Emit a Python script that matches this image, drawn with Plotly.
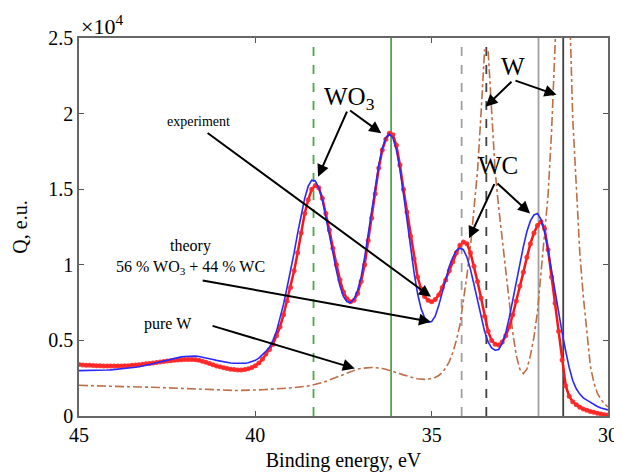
import plotly.graph_objects as go

# Binding energy grid (eV), 45.0 -> 30.0 in 0.1 eV steps
energy = [round(45.0 - 0.1 * i, 1) for i in range(151)]

# Experiment (x1e4 e.u.)
experiment = [
    0.340, 0.338, 0.336, 0.335, 0.334, 0.333, 0.332, 0.331, 0.330, 0.330,
    0.330, 0.330, 0.331, 0.332, 0.333, 0.335, 0.337, 0.339, 0.342, 0.345,
    0.348, 0.351, 0.354, 0.357, 0.360, 0.363, 0.366, 0.368, 0.370, 0.372,
    0.373, 0.374, 0.374, 0.372, 0.368, 0.362, 0.355, 0.347, 0.339, 0.331,
    0.325, 0.319, 0.314, 0.310, 0.307, 0.305, 0.305, 0.307, 0.312, 0.320,
    0.332, 0.350, 0.375, 0.410, 0.440, 0.475, 0.530, 0.590, 0.670, 0.760,
    0.850, 0.960, 1.080, 1.210, 1.340, 1.430, 1.500, 1.525, 1.510, 1.440,
    1.340, 1.230, 1.110, 1.000, 0.900, 0.820, 0.775, 0.755, 0.765, 0.810,
    0.890, 1.000, 1.160, 1.310, 1.470, 1.640, 1.760, 1.830, 1.870, 1.860,
    1.790, 1.660, 1.500, 1.350, 1.190, 1.040, 0.920, 0.840, 0.790, 0.765,
    0.755, 0.770, 0.800, 0.850, 0.900, 0.960, 1.020, 1.080, 1.130, 1.150,
    1.140, 1.080, 0.990, 0.890, 0.780, 0.660, 0.560, 0.500, 0.475, 0.470,
    0.490, 0.530, 0.590, 0.670, 0.760, 0.860, 0.950, 1.050, 1.140, 1.210,
    1.260, 1.285, 1.240, 1.100, 0.920, 0.745, 0.560, 0.370, 0.200, 0.130,
    0.095, 0.075, 0.058, 0.047, 0.038, 0.030, 0.024, 0.018, 0.013, 0.009,
    0.006,
]

# Theory: 56 % WO3 + 44 % WC
theory = [
    0.300, 0.300, 0.300, 0.300, 0.300, 0.301, 0.302, 0.303, 0.304, 0.305,
    0.307, 0.309, 0.311, 0.313, 0.316, 0.319, 0.322, 0.326, 0.330, 0.335,
    0.340, 0.346, 0.352, 0.358, 0.364, 0.370, 0.376, 0.382, 0.387, 0.391,
    0.394, 0.396, 0.397, 0.396, 0.394, 0.390, 0.385, 0.380, 0.374, 0.368,
    0.363, 0.358, 0.354, 0.351, 0.349, 0.348, 0.348, 0.349, 0.352, 0.358,
    0.368, 0.383, 0.403, 0.428, 0.455, 0.500, 0.560, 0.650, 0.740, 0.850,
    0.960, 1.080, 1.210, 1.330, 1.440, 1.520, 1.560, 1.555, 1.510, 1.430,
    1.320, 1.200, 1.080, 0.960, 0.860, 0.790, 0.755, 0.750, 0.775, 0.830,
    0.920, 1.050, 1.200, 1.360, 1.520, 1.660, 1.770, 1.840, 1.865, 1.840,
    1.760, 1.630, 1.470, 1.290, 1.110, 0.950, 0.810, 0.710, 0.650, 0.620,
    0.625, 0.660, 0.730, 0.820, 0.910, 0.990, 1.050, 1.095, 1.110, 1.100,
    1.050, 0.970, 0.870, 0.760, 0.650, 0.560, 0.490, 0.450, 0.435, 0.440,
    0.480, 0.550, 0.650, 0.770, 0.890, 1.010, 1.120, 1.220, 1.290, 1.330,
    1.340, 1.300, 1.220, 1.100, 0.960, 0.810, 0.680, 0.550, 0.430, 0.320,
    0.235, 0.180, 0.145, 0.120, 0.105, 0.090, 0.075, 0.063, 0.053, 0.045,
    0.040,
]

# Pure W
pure_w = [
    0.203, 0.203, 0.202, 0.202, 0.201, 0.200, 0.199, 0.198, 0.197, 0.196,
    0.196, 0.195, 0.195, 0.194, 0.194, 0.193, 0.193, 0.192, 0.192, 0.191,
    0.191, 0.190, 0.190, 0.189, 0.188, 0.186, 0.184, 0.182, 0.180, 0.179,
    0.178, 0.177, 0.176, 0.175, 0.174, 0.173, 0.172, 0.172, 0.171, 0.171,
    0.170, 0.170, 0.170, 0.169, 0.169, 0.169, 0.169, 0.170, 0.170, 0.171,
    0.172, 0.173, 0.174, 0.175, 0.176, 0.177, 0.178, 0.180, 0.182, 0.184,
    0.186, 0.188, 0.190, 0.193, 0.196, 0.199, 0.203, 0.208, 0.214, 0.221,
    0.229, 0.238, 0.248, 0.258, 0.268, 0.278, 0.288, 0.297, 0.304, 0.310,
    0.315, 0.318, 0.320, 0.321, 0.320, 0.318, 0.314, 0.309, 0.303, 0.296,
    0.288, 0.280, 0.272, 0.264, 0.257, 0.251, 0.246, 0.243, 0.242, 0.243,
    0.247, 0.255, 0.268, 0.288, 0.318, 0.360, 0.420, 0.500, 0.600, 0.750,
    0.930, 1.120, 1.350, 1.620, 2.000, 2.420, 2.420, 2.000, 1.620, 1.380,
    1.180, 0.980, 0.760, 0.550, 0.400, 0.310, 0.280, 0.310, 0.400, 0.520,
    0.690, 0.950, 1.180, 1.460, 1.880, 2.600, 3.300, 3.600, 3.400, 2.800,
    1.970, 1.500, 1.080, 0.790, 0.560, 0.330, 0.220, 0.150, 0.110, 0.080,
    0.060,
]

# Reference lines (eV)
vline_x = [38.35, 36.15, 34.15, 33.45, 31.97, 31.27]
vline_color = ["#4aa84a", "#4aa84a", "#a0a0a0", "#404040", "#a0a0a0", "#404040"]
vline_dash = ["dash", "solid", "dash", "dash", "solid", "solid"]

x_ticks = [45, 40, 35, 30]
y_ticks = [0, 0.5, 1, 1.5, 2, 2.5]
y_tick_text = ["0", "0.5", "1", "1.5", "2", "2.5"]

SERIF = "Liberation Serif, Times New Roman, serif"

fig = go.Figure()

fig.add_trace(go.Scatter(
    x=energy, y=pure_w, mode="lines",
    line=dict(color="rgb(190,110,70)", width=1.6, dash="dashdot"),
    showlegend=False, hoverinfo="skip"))

fig.add_trace(go.Scatter(
    x=energy, y=experiment, mode="lines+markers",
    line=dict(color="rgb(255,20,20)", width=2.5),
    marker=dict(color="rgb(255,40,40)", size=5, opacity=0.9),
    showlegend=False, hoverinfo="skip"))

fig.add_trace(go.Scatter(
    x=energy, y=theory, mode="lines",
    line=dict(color="rgb(40,40,255)", width=1.6),
    showlegend=False, hoverinfo="skip"))

shapes = []
for xv, col, ds in zip(vline_x, vline_color, vline_dash):
    shapes.append(dict(type="line", xref="x", yref="paper", x0=xv, x1=xv,
                       y0=0, y1=1, line=dict(color=col, width=1.8, dash=ds),
                       layer="below"))

annotations = []

def arrow(head, tail):
    annotations.append(dict(
        x=head[0], y=head[1], ax=tail[0], ay=tail[1],
        xref="x", yref="y", axref="x", ayref="y",
        text=" ", showarrow=True, arrowhead=2, arrowsize=1.2,
        arrowwidth=2, arrowcolor="black", standoff=0, startstandoff=0,
        font=dict(size=2)))

def label(x, y, text, size):
    annotations.append(dict(
        x=x, y=y, xref="x", yref="y", text=text, showarrow=False,
        font=dict(family=SERIF, size=size, color="black"),
        xanchor="center", yanchor="middle"))

label(37.32, 2.10, "WO<sub>3</sub>", 25)
arrow((38.22, 1.583), (37.37, 2.03))
arrow((36.43, 1.87), (37.37, 2.03))

label(32.68, 2.31, "W", 25)
arrow((33.47, 2.046), (32.68, 2.223))
arrow((31.46, 2.124), (32.68, 2.223))

label(33.13, 1.66, "WC", 25)
arrow((33.94, 1.175), (33.19, 1.55))
arrow((32.21, 1.34), (33.19, 1.55))

label(41.61, 1.945, "experiment", 14)
arrow((35.02, 0.788), (41.41, 1.881))

label(41.83, 1.124, "theory", 16)
label(41.83, 0.985, "56 % WO<sub>3</sub> + 44 % WC", 16)
arrow((35.02, 0.623), (41.55, 0.899))

label(42.48, 0.607, "pure W", 16)
arrow((37.18, 0.314), (41.27, 0.60))

annotations.append(dict(
    x=0, y=1.035, xref="paper", yref="paper", xanchor="left",
    yanchor="middle", showarrow=False, text="×10<sup>4</sup>",
    font=dict(family=SERIF, size=22, color="black")))

# The page body adds an 8 px margin, so the figure is sized to fit inside it.
fig.update_layout(
    width=614, height=464,
    margin=dict(l=71, r=14, t=30, b=56),
    paper_bgcolor="white", plot_bgcolor="white",
    font=dict(family=SERIF, size=19, color="black"),
    shapes=shapes, annotations=annotations, showlegend=False,
    xaxis=dict(
        range=[45, 30], tickvals=x_ticks, ticktext=[str(v) for v in x_ticks],
        ticks="inside", ticklen=5, tickcolor="#555", showline=True,
        linecolor="#666", linewidth=1.5, mirror="ticks", showgrid=False,
        zeroline=False, tickfont=dict(family=SERIF, size=20), automargin=False,
        title=dict(text="Binding energy, eV", font=dict(family=SERIF, size=20))),
    yaxis=dict(
        range=[0, 2.5], tickvals=y_ticks, ticktext=y_tick_text,
        ticks="inside", ticklen=5, tickcolor="#555", showline=True,
        linecolor="#666", linewidth=1.5, mirror="ticks", showgrid=False,
        zeroline=False, tickfont=dict(family=SERIF, size=20), automargin=False,
        title=dict(text="Q, e.u.", font=dict(family=SERIF, size=20))),
)

fig.write_html("out.html")
